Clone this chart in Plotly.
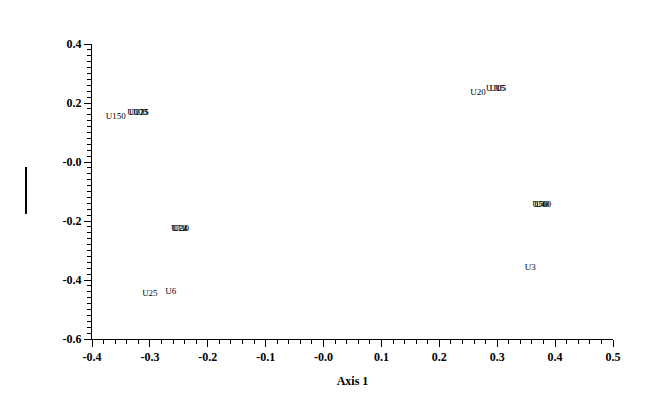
import plotly.graph_objects as go

labels = ["U150", "U100", "U125", "U75", "U20", "U10", "U15", "U5", "U50", "U40", "U60",
          "U12", "U24", "U30", "U3", "U25", "U6"]
axis1 = [-0.359, -0.322, -0.319, -0.316, 0.267, 0.294, 0.300, 0.306, 0.374, 0.377, 0.380,
         -0.250, -0.248, -0.246, 0.357, -0.300, -0.264]
axis2 = [0.153, 0.166, 0.166, 0.166, 0.234, 0.247, 0.247, 0.247, -0.146, -0.146, -0.146,
         -0.227, -0.227, -0.227, -0.359, -0.447, -0.441]

x_ticks = [-0.4, -0.3, -0.2, -0.1, 0.0, 0.1, 0.2, 0.3, 0.4, 0.5]
x_ticktext = ["-0.4", "-0.3", "-0.2", "-0.1", "-0.0", "0.1", "0.2", "0.3", "0.4", "0.5"]
y_ticks = [0.4, 0.2, 0.0, -0.2, -0.4, -0.6]
y_ticktext = ["0.4", "0.2", "-0.0", "-0.2", "-0.4", "-0.6"]

fig = go.Figure()
fig.add_trace(go.Scatter(
    x=axis1, y=axis2, mode="text", text=labels,
    textposition="middle center",
    textfont=dict(family="Liberation Serif", size=9, color="black"),
    hoverinfo="skip", showlegend=False,
))

axis_common = dict(
    showgrid=False, zeroline=False, showline=True, linecolor="black", linewidth=1,
    ticks="outside", ticklen=7, tickcolor="black", tickwidth=1,
    tickfont=dict(family="Liberation Serif", size=12, color="black", weight="bold"),
    minor=dict(dtick=0.02, ticks="outside", ticklen=4, tickcolor="black", showgrid=False),
)

fig.update_xaxes(range=[-0.4, 0.5], tickvals=x_ticks, ticktext=x_ticktext,
                 title=dict(text="<b>Axis 1</b>", font=dict(family="Liberation Serif", size=12, color="black"), standoff=13),
                 **axis_common)
fig.update_yaxes(range=[-0.6, 0.4], tickvals=y_ticks, ticktext=y_ticktext, **axis_common)

fig.add_shape(type="line", xref="paper", yref="paper", x0=-0.1267, x1=-0.1267, y0=0.424, y1=0.583,
              line=dict(color="black", width=2))

fig.update_layout(
    width=664, height=413,
    margin=dict(l=84, r=59, t=36, b=82),
    plot_bgcolor="white", paper_bgcolor="white",
)

fig.write_html("out.html")
